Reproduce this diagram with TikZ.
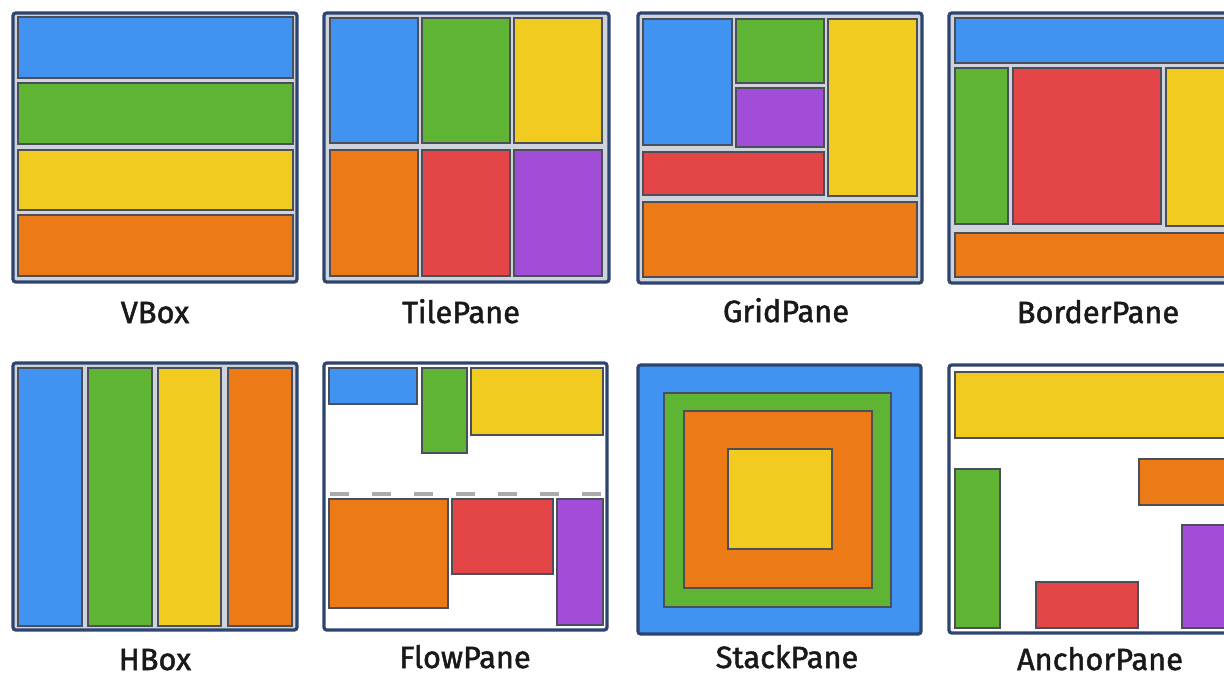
\documentclass[tikz,border=0pt]{standalone}
\usepackage{fontspec}
\setmainfont{Fira Sans}
\usepackage{tikz}
\usetikzlibrary{positioning}

\definecolor{fxblue}{HTML}{4193F2}
\definecolor{fxgreen}{HTML}{5FB533}
\definecolor{fxyellow}{HTML}{F2CB20}
\definecolor{fxorange}{HTML}{EC7B17}
\definecolor{fxred}{HTML}{E44547}
\definecolor{fxpurple}{HTML}{A14DD8}
\definecolor{fxframe}{HTML}{2E4470}
\definecolor{fxgap}{HTML}{CFD4DC}
\definecolor{fxedge}{HTML}{4A4F5A}
\definecolor{fxdash}{HTML}{A9ABAF}

\begin{document}
\begin{tikzpicture}[
  x=0.02cm, y=-0.02cm,
  pane/.style={draw=fxframe, line width=1.8pt, fill=#1, rounded corners=1.5pt},
  pane/.default=fxgap,
  cell/.style={draw=fxedge, line width=0.6pt, fill=#1},
  paneLabel/.style={font=\fontsize{17.5}{17.5}\selectfont\addfontfeature{FakeBold=1.6}, anchor=base, text=black!90}
]
\useasboundingbox (0,0) rectangle (1224,677);
\clip (0,0) rectangle (1224,677);

% VBox
\draw[pane] (13,13) rectangle (297,282);
\foreach \t/\b/\c in {17/78/fxblue, 83/144/fxgreen, 150/210/fxyellow, 215/276/fxorange}
  \draw[cell=\c] (18,\t) rectangle (293,\b);
\node[paneLabel] (vboxLabel) at (155,323) {VBox};

% TilePane
\draw[pane] (324,13) rectangle (609,282);
\foreach \l/\r/\top/\bot/\c in {330/418/18/143/fxblue, 422/510/18/143/fxgreen, 514/602/18/143/fxyellow,
                              330/418/150/276/fxorange, 422/510/150/276/fxred, 514/602/150/276/fxpurple}
  \draw[cell=\c] (\l,\top) rectangle (\r,\bot);
\node[paneLabel] (tileLabel) at (461,323) {TilePane};

% GridPane
\draw[pane] (638,13) rectangle (922,283);
\draw[cell=fxblue]   (643,19)  rectangle (732,145);
\draw[cell=fxgreen]  (736,19)  rectangle (824,83);
\draw[cell=fxpurple] (736,88)  rectangle (824,147);
\draw[cell=fxyellow] (828,19)  rectangle (917,196);
\draw[cell=fxred]    (643,152) rectangle (824,195);
\draw[cell=fxorange] (643,202) rectangle (917,277);
\node[paneLabel] (gridLabel) at (786,322) {GridPane};

% BorderPane
\draw[pane] (949,13) rectangle (1234,283);
\draw[cell=fxblue]   (955,18)  rectangle (1229,63);
\draw[cell=fxgreen]  (955,68)  rectangle (1008,224);
\draw[cell=fxred]    (1013,68) rectangle (1161,224);
\draw[cell=fxyellow] (1166,68) rectangle (1229,226);
\draw[cell=fxorange] (955,233) rectangle (1229,277);
\node[paneLabel] (borderLabel) at (1098,323) {BorderPane};

% HBox
\draw[pane] (13,363) rectangle (297,630);
\foreach \l/\r/\c in {18/82/fxblue, 88/152/fxgreen, 158/221/fxyellow, 228/292/fxorange}
  \draw[cell=\c] (\l,368) rectangle (\r,626);
\node[paneLabel] (hboxLabel) at (155,670) {HBox};

% FlowPane
\draw[pane=white] (324,363) rectangle (607,630);
\draw[cell=fxblue]   (329,368) rectangle (417,404);
\draw[cell=fxgreen]  (422,368) rectangle (467,453);
\draw[cell=fxyellow] (471,368) rectangle (603,435);
\draw[fxdash, line width=1.8pt, dash pattern=on 0.38cm off 0.46cm] (330,494) -- (603,494);
\draw[cell=fxorange] (329,499) rectangle (448,608);
\draw[cell=fxred]    (452,499) rectangle (553,574);
\draw[cell=fxpurple] (557,499) rectangle (603,625);
\node[paneLabel] (flowLabel) at (465,668) {FlowPane};

% StackPane
\draw[pane=fxblue] (638,365) rectangle (921,634);
\draw[cell=fxgreen]  (664,393) rectangle (891,607);
\draw[cell=fxorange] (684,411) rectangle (872,588);
\draw[cell=fxyellow] (728,449) rectangle (832,549);
\node[paneLabel] (stackLabel) at (787,668) {StackPane};

% AnchorPane
\draw[pane=white] (949,365) rectangle (1234,633);
\draw[cell=fxyellow] (955,372)  rectangle (1229,438);
\draw[cell=fxgreen]  (955,469)  rectangle (1000,628);
\draw[cell=fxorange] (1139,459) rectangle (1229,505);
\draw[cell=fxred]    (1036,582) rectangle (1138,628);
\draw[cell=fxpurple] (1182,525) rectangle (1229,628);
\node[paneLabel] (anchorLabel) at (1100,670) {AnchorPane};

\end{tikzpicture}
\end{document}
